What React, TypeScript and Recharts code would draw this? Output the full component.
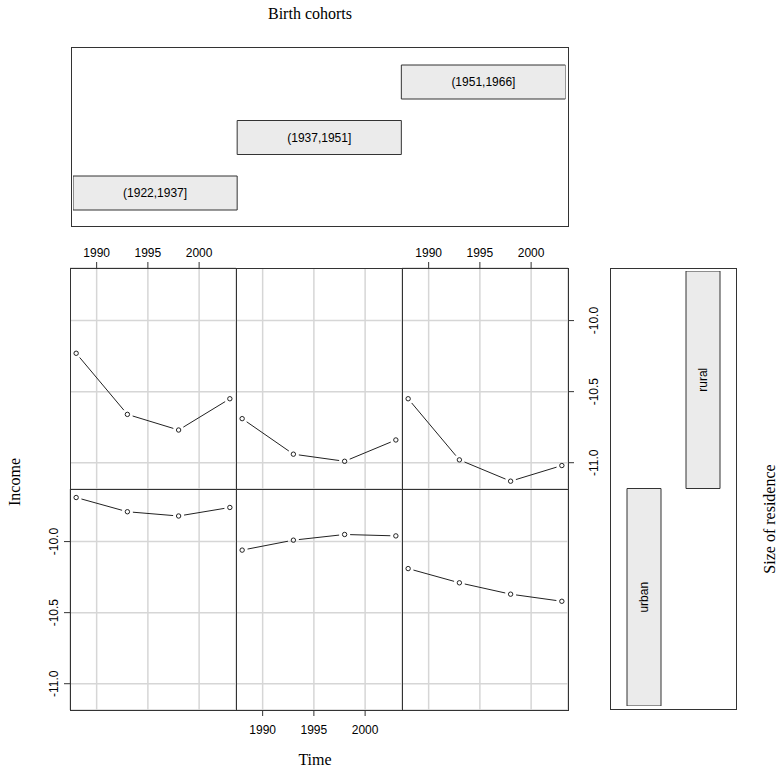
import React from 'react';
import { LineChart, Line, XAxis, YAxis, CartesianGrid, BarChart, Bar, LabelList } from 'recharts';

// ── Data ──────────────────────────────────────────────────────────────────────

const years = [1988, 1993, 1998, 2003];
const timeTicks = [1990, 1995, 2000];
const incomeTicks = [-10.0, -10.5, -11.0];

const cohorts = ['(1922,1937]', '(1937,1951]', '(1951,1966]'];
const cohortSpan = [[0.5, 1.5], [1.5, 2.5], [2.5, 3.5]];

const residence = ['urban', 'rural'];
const residenceSpan = [[0.5, 1.5], [1.5, 2.5]];

// one row per cohort, values per year
const ruralIncome = [
  [-10.23, -10.66, -10.77, -10.55],
  [-10.69, -10.94, -10.99, -10.84],
  [-10.55, -10.98, -11.13, -11.02],
];
const urbanIncome = [
  [-9.69, -9.79, -9.82, -9.76],
  [-10.06, -9.99, -9.95, -9.96],
  [-10.19, -10.29, -10.37, -10.42],
];

// ── Layout ────────────────────────────────────────────────────────────────────

const SANS = '"Liberation Sans", Arial, sans-serif';
const SERIF = '"Liberation Serif", "Times New Roman", serif';
const INK = '#333';

const COL_LEFT = [70, 236, 402];
const COL_W = 166;
const ROW_TOP = [268, 489];
const ROW_H = 221;
const X_DOMAIN = [1987.4, 2003.6];
const Y_DOMAIN = [-11.185, -9.63];

// line with gaps around the points, like R's type = "b"
function GapDot(props: any) {
  const { cx, cy, index, points } = props;
  const gap = 5.5;
  let seg = null;
  if (index > 0 && points && points[index - 1]) {
    const p = points[index - 1];
    const dx = cx - p.x, dy = cy - p.y;
    const len = Math.sqrt(dx * dx + dy * dy);
    if (len > gap * 2) {
      const ux = dx / len, uy = dy / len;
      seg = (
        <line x1={p.x + ux * gap} y1={p.y + uy * gap} x2={cx - ux * gap} y2={cy - uy * gap}
          stroke="#222" strokeWidth={1} />
      );
    }
  }
  return (
    <g key={`d${index}`}>
      {seg}
      <circle cx={cx} cy={cy} r={2.2} fill="none" stroke="#222" strokeWidth={1} />
    </g>
  );
}

function RotTick(props: any) {
  const { x, y, payload, dx } = props;
  return (
    <text transform={`translate(${x + dx},${y}) rotate(-90)`} textAnchor="middle"
      fontSize={12} fontFamily={SANS} fill="#000">
      {payload.value.toFixed(1)}
    </text>
  );
}

interface PanelProps {
  col: number; row: number; values: number[];
  top?: boolean; bottom?: boolean; left?: boolean; right?: boolean;
}

function Panel({ col, row, values, top, bottom, left, right }: PanelProps) {
  const data = years.map((t, i) => ({ t, v: values[i] }));
  const AX_H = 34, AX_L = 30, AX_R = 40;
  const w = COL_W + (left ? AX_L : 0) + (right ? AX_R : 0);
  const h = ROW_H + (top ? AX_H : 0) + (bottom ? AX_H : 0);
  const tickStyle = { fontSize: 12, fill: '#000', fontFamily: SANS };
  return (
    <div style={{ position: 'absolute', left: COL_LEFT[col] - (left ? AX_L : 0), top: ROW_TOP[row] - (top ? AX_H : 0) }}>
      <LineChart width={w} height={h} data={data} margin={{ top: 0, right: 0, bottom: 0, left: 0 }}>
        <CartesianGrid xAxisId="b" yAxisId="l" stroke="#d6d6d6" strokeWidth={1.5} />
        <XAxis xAxisId="b" type="number" dataKey="t" domain={X_DOMAIN} ticks={timeTicks}
          allowDataOverflow orientation="bottom" hide={!bottom} height={AX_H}
          axisLine={false} tickSize={6} tickMargin={9} tick={tickStyle} tickLine={{ stroke: INK }} />
        <XAxis xAxisId="t" type="number" dataKey="t" domain={X_DOMAIN} ticks={timeTicks}
          allowDataOverflow orientation="top" hide={!top} height={AX_H}
          axisLine={false} tickSize={6} tickMargin={5} tick={tickStyle} tickLine={{ stroke: INK }} />
        <YAxis yAxisId="l" type="number" domain={Y_DOMAIN} ticks={incomeTicks} allowDataOverflow
          orientation="left" hide={!left} width={AX_L} axisLine={false} tickSize={6} tickMargin={2}
          tickLine={{ stroke: INK }} tick={<RotTick dx={-4.5} />} />
        <YAxis yAxisId="r" type="number" domain={Y_DOMAIN} ticks={incomeTicks} allowDataOverflow
          orientation="right" hide={!right} width={AX_R} axisLine={false} tickSize={6} tickMargin={2}
          tickLine={{ stroke: INK }} tick={<RotTick dx={21.5} />} />
        <Line xAxisId="b" yAxisId="l" dataKey="v" stroke="none" dot={GapDot} activeDot={false}
          isAnimationActive={false} />
      </LineChart>
    </div>
  );
}

function CohortLabel(props: any) {
  const { x, y, width, height, value } = props;
  return (
    <text x={x + width / 2} y={y + height / 2} textAnchor="middle" dominantBaseline="central"
      fontSize={12} fontFamily={SANS} fill="#000">{value}</text>
  );
}

function ResidenceLabel(props: any) {
  const { x, y, width, height, value } = props;
  return (
    <text transform={`translate(${x + width / 2},${y + height / 2}) rotate(-90)`} textAnchor="middle"
      dominantBaseline="central" fontSize={12} fontFamily={SANS} fill="#000">{value}</text>
  );
}

export default function App() {
  const cohortData = cohorts.map((label, i) => ({ label, span: cohortSpan[i] }));
  const residenceData = residence.map((label, i) => ({ label, span: residenceSpan[i] }));
  const box = (l: number, t: number, w: number, h: number) => ({
    position: 'absolute' as const, left: l, top: t, width: w, height: h,
    border: `1px solid ${INK}`, boxSizing: 'border-box' as const, pointerEvents: 'none' as const,
  });
  const rule = (l: number, t: number, w: number, h: number) => ({
    position: 'absolute' as const, left: l, top: t, width: w, height: h,
    background: INK, pointerEvents: 'none' as const,
  });
  const gridRight = COL_LEFT[2] + COL_W;
  const gridBottom = ROW_TOP[1] + ROW_H;
  return (
    <div style={{ position: 'absolute', left: 0, top: 0, width: 778, height: 769, background: '#fff', overflow: 'hidden' }}>
      {/* Given panel: birth cohorts */}
      <div style={{ position: 'absolute', left: 73, top: 53.5 }}>
        <BarChart layout="vertical" width={492.5} height={166.5} data={cohortData}
          margin={{ top: 0, right: 0, bottom: 0, left: 0 }} barSize={34}>
          <XAxis type="number" domain={[0.5, 3.5]} hide allowDataOverflow />
          <YAxis type="category" dataKey="label" hide reversed />
          <Bar dataKey="span" fill="#ebebeb" stroke={INK} strokeWidth={1} isAnimationActive={false}>
            <LabelList dataKey="label" content={CohortLabel} />
          </Bar>
        </BarChart>
      </div>
      <div style={box(70.5, 46.5, 498, 180)} />

      {/* Given panel: size of residence */}
      <div style={{ position: 'absolute', left: 613.5, top: 271 }}>
        <BarChart width={118} height={435} data={residenceData}
          margin={{ top: 0, right: 0, bottom: 0, left: 0 }} barSize={34}>
          <XAxis type="category" dataKey="label" hide />
          <YAxis type="number" domain={[0.5, 2.5]} hide allowDataOverflow />
          <Bar dataKey="span" fill="#ebebeb" stroke={INK} strokeWidth={1} isAnimationActive={false}>
            <LabelList dataKey="label" content={ResidenceLabel} />
          </Bar>
        </BarChart>
      </div>
      <div style={box(610, 268, 127, 442)} />

      {/* Conditioning panels: top row rural, bottom row urban */}
      <Panel col={0} row={0} values={ruralIncome[0]} top />
      <Panel col={1} row={0} values={ruralIncome[1]} />
      <Panel col={2} row={0} values={ruralIncome[2]} top right />
      <Panel col={0} row={1} values={urbanIncome[0]} left />
      <Panel col={1} row={1} values={urbanIncome[1]} bottom />
      <Panel col={2} row={1} values={urbanIncome[2]} />

      {/* Panel frames */}
      <div style={box(COL_LEFT[0], ROW_TOP[0], gridRight - COL_LEFT[0] + 1, gridBottom - ROW_TOP[0] + 1)} />
      <div style={rule(COL_LEFT[1], ROW_TOP[0], 1, gridBottom - ROW_TOP[0])} />
      <div style={rule(COL_LEFT[2], ROW_TOP[0], 1, gridBottom - ROW_TOP[0])} />
      <div style={rule(COL_LEFT[0], ROW_TOP[1], gridRight - COL_LEFT[0], 1)} />

      {/* Titles */}
      <svg width={778} height={769} style={{ position: 'absolute', left: 0, top: 0, pointerEvents: 'none' }}>
        <text x={310} y={19} textAnchor="middle" fontSize={16} fontFamily={SERIF} fill="#000">Birth cohorts</text>
        <text x={315} y={765} textAnchor="middle" fontSize={16} fontFamily={SERIF} fill="#000">Time</text>
        <text transform="translate(20,482) rotate(-90)" textAnchor="middle" fontSize={16} fontFamily={SERIF} fill="#000">Income</text>
        <text transform="translate(775,519) rotate(-90)" textAnchor="middle" fontSize={16} fontFamily={SERIF} fill="#000">Size of residence</text>
      </svg>
    </div>
  );
}
